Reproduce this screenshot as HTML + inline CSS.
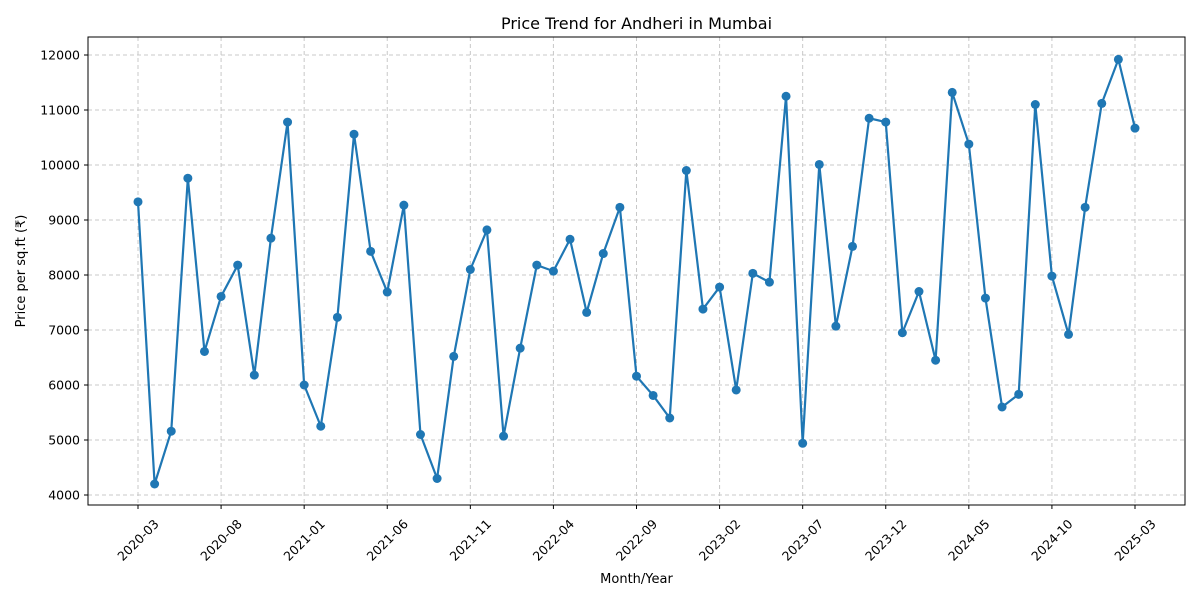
<!DOCTYPE html>
<html><head><meta charset="utf-8">
<style>
body{margin:0;background:#fff;font-family:"Liberation Sans","DejaVu Sans",sans-serif;}
svg text{font-family:"DejaVu Sans","Liberation Sans",sans-serif;}
</style></head>
<body>
<svg id="chart" width="1200" height="600" xmlns="http://www.w3.org/2000/svg"></svg>
<script>
const values = [9330,4200,5160,9760,6610,7610,8180,6180,8670,10780,6000,5250,7230,10560,8430,7690,9270,5100,4300,6520,8100,8820,5070,6670,8180,8070,8650,7320,8390,9230,6160,5810,5400,9900,7380,7780,5910,8030,7870,11250,4940,10010,7070,8520,10850,10780,6950,7700,6450,11320,10380,7580,5600,5830,11100,7980,6920,9230,11120,11920,10670];
const startYear = 2020, startMonth = 3;
const yTicks = [4000,5000,6000,7000,8000,9000,10000,11000,12000];
const xTickEvery = 5;

const svg = document.getElementById('chart');
const NS = 'http://www.w3.org/2000/svg';
const L=88,R=1185,T=37,B=505;
const x0=138, x1=1135;
function xs(i){return x0+(x1-x0)*i/(values.length-1);}
function ys(v){return 495-(v-4000)*(440/8000);}
function mk(tag,attrs,parent){const e=document.createElementNS(NS,tag);for(const k in attrs)e.setAttribute(k,attrs[k]);(parent||svg).appendChild(e);return e;}

const grid=mk('g',{});


yTicks.forEach(v=>{
  const y=ys(v);
  mk('line',{x1:L,x2:R,y1:y,y2:y,stroke:'#c8c8c8','stroke-dasharray':'4,3','stroke-width':1},grid);
  mk('line',{x1:L-4,x2:L,y1:y,y2:y,stroke:'#000'});
  const t=mk('text',{x:L-8,y:y+4.5,'text-anchor':'end','font-size':12.5,fill:'#000'});
  t.textContent=v;
  
  
});
for(let i=0;i<values.length;i+=xTickEvery){
  const x=xs(i);
  mk('line',{x1:x,x2:x,y1:T,y2:B,stroke:'#c8c8c8','stroke-dasharray':'4,3','stroke-width':1},grid);
  mk('line',{x1:x,x2:x,y1:B,y2:B+4,stroke:'#000'});
  const m=startMonth-1+i, yr=startYear+Math.floor(m/12), mo=(m%12)+1;
  const cy=540;
  const t=mk('text',{x:x,y:cy+4.5,'text-anchor':'middle','font-size':12.5,fill:'#000',transform:`rotate(-45 ${x} ${cy})`});
  t.textContent=yr+'-'+String(mo).padStart(2,'0');
  
  
}
const frame=mk('rect',{x:L,y:T,width:R-L,height:B-T,fill:'none',stroke:'#000','stroke-width':1});



const line=mk('polyline',{points:values.map((v,i)=>xs(i)+','+ys(v)).join(' '),fill:'none',stroke:'#1f77b4','stroke-width':2.2,'stroke-linejoin':'round'});


values.forEach((v,i)=>{
  const c=mk('circle',{cx:xs(i),cy:ys(v),r:4.5,fill:'#1f77b4'});
  
  
});

const title=mk('text',{x:(L+R)/2,y:29,'text-anchor':'middle','font-size':16,fill:'#000'});
title.textContent='Price Trend for Andheri in Mumbai';


const xl=mk('text',{x:(L+R)/2,y:583,'text-anchor':'middle','font-size':13,fill:'#000'});
xl.textContent='Month/Year';


const yl=mk('text',{x:25,y:271,'text-anchor':'middle','font-size':13,fill:'#000',transform:'rotate(-90 25 271)'});
yl.textContent='Price per sq.ft (₹)';


</script>
</body></html>
